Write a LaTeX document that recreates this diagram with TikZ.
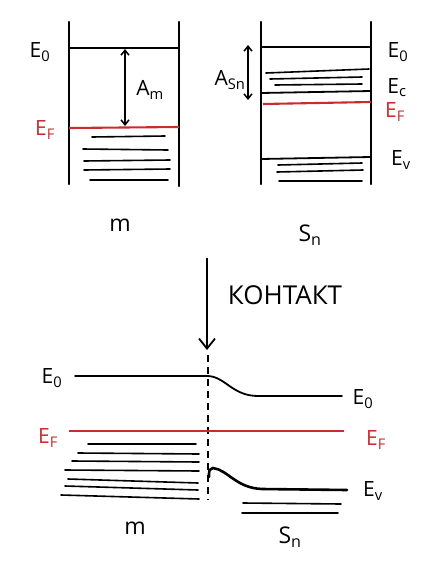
\documentclass[tikz,border=0pt]{standalone}
\usepackage{fontspec}
\setmainfont{Open Sans}
\usetikzlibrary{arrows.meta}
\definecolor{fermi}{RGB}{200,45,45}
\tikzset{
  wall/.style={line width=2.6pt, line cap=round},
  level/.style={line width=1.8pt, line cap=round},
  band/.style={line width=1.6pt, line cap=round},
  fermiline/.style={line width=2.1pt, fermi},
  lbl/.style={font=\fontsize{21}{24}\selectfont, inner sep=0pt},
  lblred/.style={lbl, text=fermi},
  big/.style={font=\fontsize{23}{26}\selectfont, inner sep=0pt},
  barb/.style={line width=1.5pt, {Straight Barb[length=5pt,width=8pt]}-{Straight Barb[length=5pt,width=8pt]}}
}
\begin{document}
\begin{tikzpicture}[x=1pt,y=-1pt]
\useasboundingbox (0,0) rectangle (429,568);

% ---------- metal box ----------
\draw[wall] (69,22) -- (69,184);
\draw[wall] (179,22) -- (179,186);
\draw[level] (69,48) coordinate (mE0) -- (179,48);
\draw[fermiline] (69,128) coordinate (mEF) -- (179,127);
\coordinate (amtop) at (125,49);
\coordinate (ambot) at (125,126);
\draw[barb] (amtop) -- (ambot);
\node[lbl] (Am) at (150,90) {A\textsubscript{m}};
\draw[band] (92,137) -- (165,136);
\draw[band] (83,149) -- (168,150);
\draw[band] (84,161) -- (170,160);
\draw[band] (84,170) -- (170,169);
\draw[band] (90,180) -- (168,180);
\node[lbl] (lE0) at (40,52) {E\textsubscript{0}};
\node[lblred] (lEF) at (45,130) {E\textsubscript{F}};
\node[big] (lm) at (120,225) {m};

% ---------- semiconductor box ----------
\draw[wall] (261,22) -- (261,184);
\draw[wall] (371,22) -- (371,184);
\draw[level] (261,47) -- (371,47);
\draw[band] (266,73) -- (369,69);
\draw[band] (270,79) -- (362,77);
\draw[band] (275,85) -- (362,84);
\draw[level] (261,93) -- (371,91);
\draw[fermiline] (263,104) -- (371,102);
\draw[level] (261,159) -- (371,157);
\draw[band] (278,165) -- (362,163);
\draw[band] (277,172) -- (363,170);
\draw[band] (279,181) -- (362,181);
\coordinate (astop) at (248,45);
\coordinate (asbot) at (248,100);
\draw[barb] (astop) -- (asbot);
\node[lbl] (Asn) at (230,80) {A\textsubscript{Sn}};
\node[lbl] (rE0) at (398,52) {E\textsubscript{0}};
\node[lbl] (rEc) at (397,88) {E\textsubscript{c}};
\node[lblred] (rEF) at (395,112) {E\textsubscript{F}};
\node[lbl] (rEv) at (401,160) {E\textsubscript{v}};
\node[big] (lsn) at (310,235) {S\textsubscript{n}};

% ---------- contact arrow ----------
\coordinate (ctop) at (207,258);
\coordinate (cbot) at (207,350);
\draw[line width=1.8pt, -{Straight Barb[length=10pt,width=16pt]}] (ctop) -- (cbot);
\node[font=\fontsize{26}{30}\selectfont, inner sep=0pt] (kontakt) at (285,295) {КОНТАКТ};

% ---------- contact diagram ----------
\draw[line width=1.3pt, dash pattern=on 7pt off 5pt] (208,355) -- (208,500);
\draw[level] (75,376) -- (207,376) .. controls (225,376) and (232,396) .. (258,396) -- (342,396);
\node[lbl] (bE0l) at (52,378) {E\textsubscript{0}};
\node[lbl] (bE0r) at (363,399) {E\textsubscript{0}};
\draw[fermiline] (69,431) -- (344,431);
\node[lblred] (bEFl) at (48,438) {E\textsubscript{F}};
\node[lblred] (bEFr) at (376,440) {E\textsubscript{F}};
\draw[band] (88,444) -- (196,444);
\draw[band] (78,453) -- (199,454);
\draw[band] (72,461) -- (199,462);
\draw[band] (65,470) -- (199,471);
\draw[band] (68,479) -- (198,483);
\draw[band] (65,486) -- (198,490);
\draw[band] (61,495) -- (199,499);
\draw[line width=2.6pt, line cap=round] (209,477) .. controls (209,470) .. (213,468) .. controls (228,470) and (236,488) .. (262,489) -- (347,490);
\draw[band] (243,503) -- (341,504);
\draw[band] (242,513) -- (338,513);
\node[lbl] (bEv) at (373,491) {E\textsubscript{v}};
\node[big] (bsn) at (290,537) {S\textsubscript{n}};
\node[big] (bm) at (135,528) {m};
\end{tikzpicture}
\end{document}
